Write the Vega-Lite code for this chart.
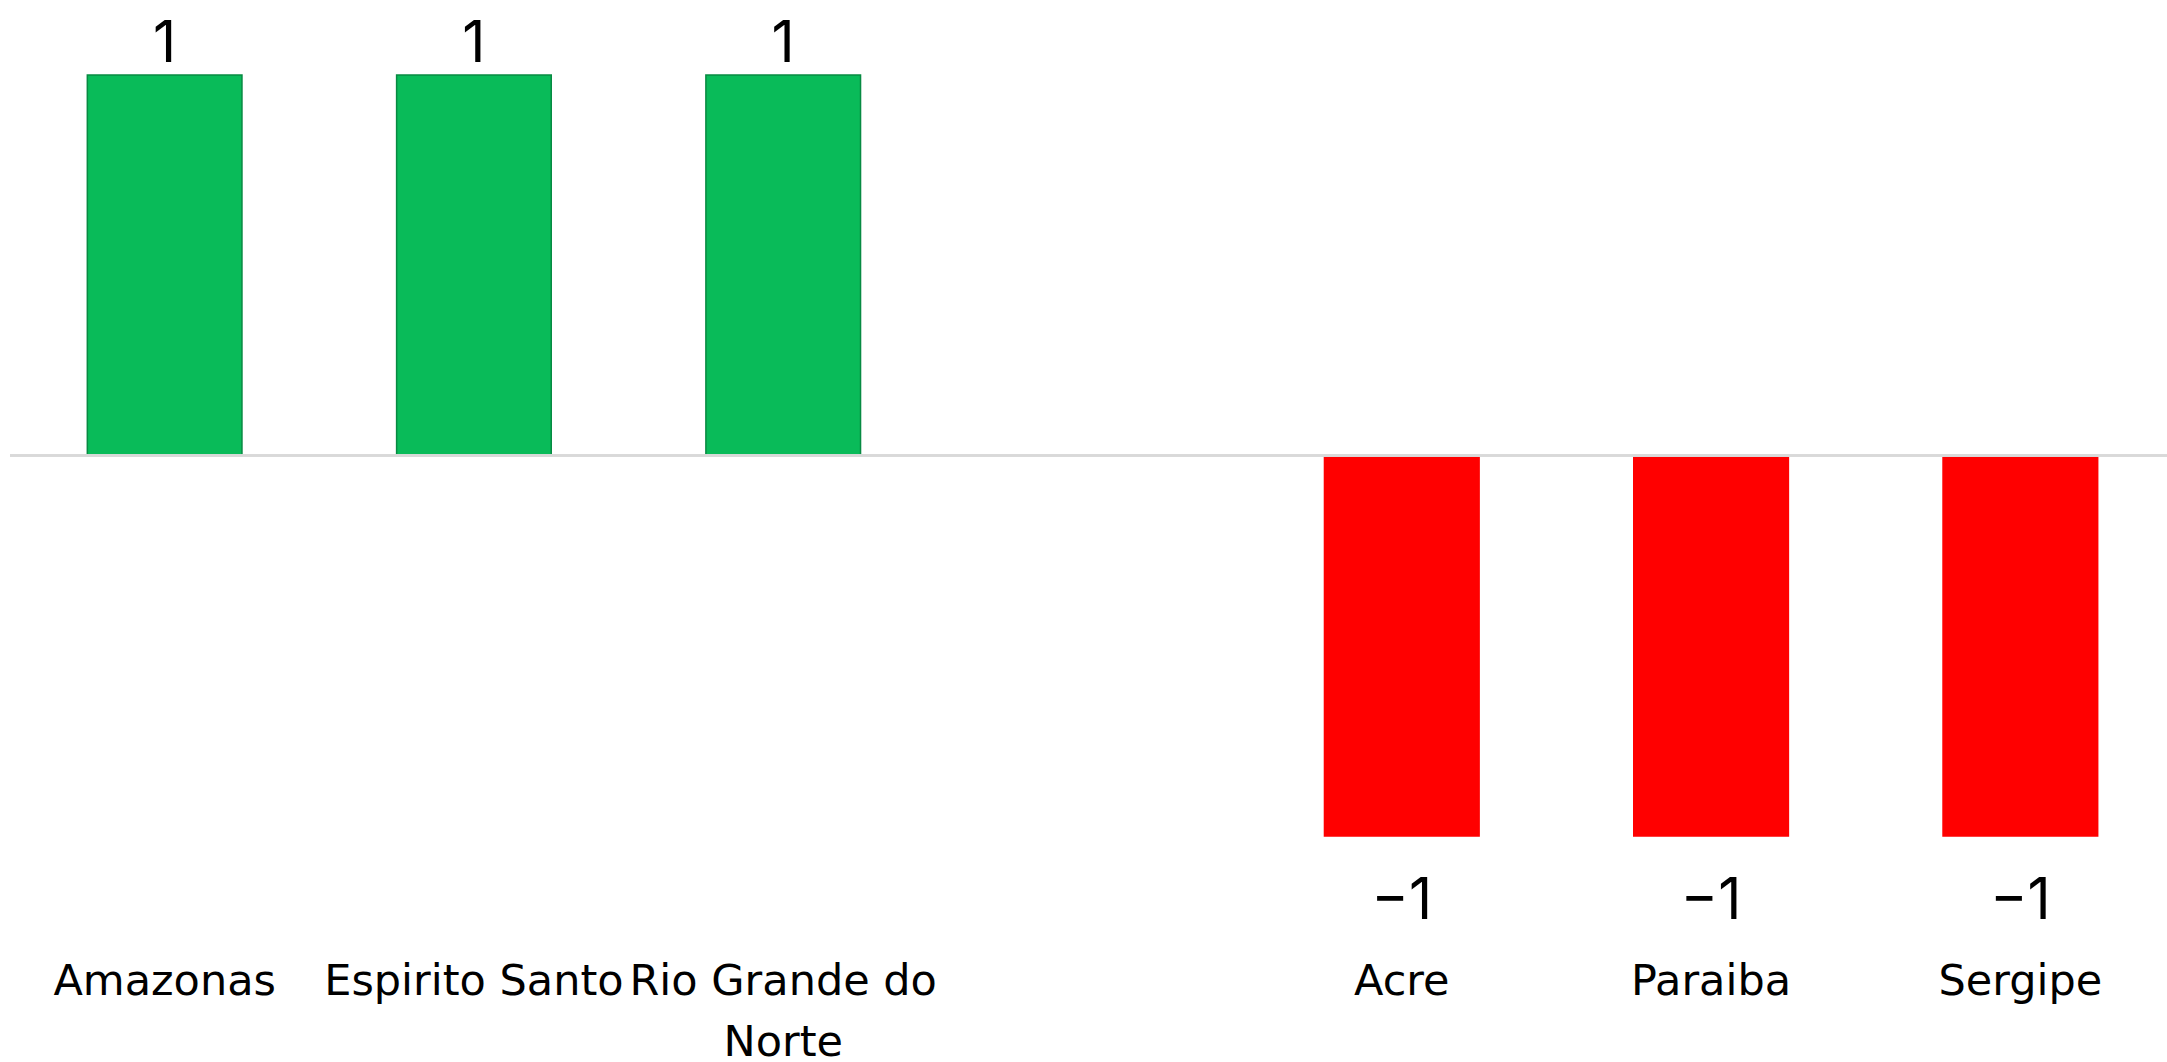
{
  "$schema": "https://vega.github.io/schema/vega-lite/v6.json",
  "autosize": {"type": "none"},
  "padding": {"left": 10, "top": 75, "right": 0, "bottom": 226},
  "width": 2165,
  "height": 761,
  "background": "white",
  "config": {"view": {"stroke": null}, "font": "Inter"},
  "data": {
    "values": [
      {"state": "Amazonas", "value": 1},
      {"state": "Espirito Santo", "value": 1},
      {"state": "Rio Grande do Norte", "value": 1},
      {"state": " ", "value": null},
      {"state": "Acre", "value": -1},
      {"state": "Paraiba", "value": -1},
      {"state": "Sergipe", "value": -1}
    ]
  },
  "encoding": {
    "x": {
      "field": "state",
      "type": "nominal",
      "sort": null,
      "scale": {
        "domain": ["Amazonas", "Espirito Santo", "Rio Grande do Norte", " ", "Acre", "Paraiba", "Sergipe"],
        "paddingInner": 0.5,
        "paddingOuter": 0.25
      },
      "axis": {
        "title": null,
        "orient": "bottom",
        "domain": false,
        "ticks": false,
        "labelAngle": 0,
        "labelFontSize": 43,
        "labelColor": "#000000",
        "labelFont": "DejaVu Sans",
        "labelBaseline": "middle",
        "labelPadding": 145,
        "labelLineHeight": 61,
        "labelLimit": 400,
        "labelExpr": "datum.label == 'Rio Grande do Norte' ? ['Rio Grande do', 'Norte'] : datum.label"
      }
    },
    "y": {
      "field": "value",
      "type": "quantitative",
      "scale": {"domain": [-1, 1], "nice": false},
      "axis": null
    }
  },
  "layer": [
    {
      "mark": {"type": "bar", "strokeWidth": 1.5},
      "encoding": {
        "color": {
          "condition": {"test": "datum.value > 0", "value": "#09BB59"},
          "value": "#FF0000"
        },
        "stroke": {
          "condition": {"test": "datum.value > 0", "value": "#078a42"},
          "value": "#FF0000"
        }
      }
    },
    {
      "mark": {"type": "rule", "color": "#D9D9D9", "strokeWidth": 2},
      "encoding": {"y": {"datum": 0}, "x": {"value": 0}, "x2": {"value": 2157}}
    },
    {
      "transform": [{"filter": "datum.value > 0"}],
      "mark": {"type": "text", "baseline": "bottom", "dy": -1, "fontSize": 57, "color": "#000000"},
      "encoding": {"text": {"field": "value", "type": "quantitative", "format": "d"}}
    },
    {
      "transform": [{"filter": "datum.value < 0"}],
      "mark": {"type": "text", "baseline": "top", "dy": 38, "fontSize": 57, "color": "#000000"},
      "encoding": {"text": {"field": "value", "type": "quantitative", "format": "d"}}
    }
  ]
}
